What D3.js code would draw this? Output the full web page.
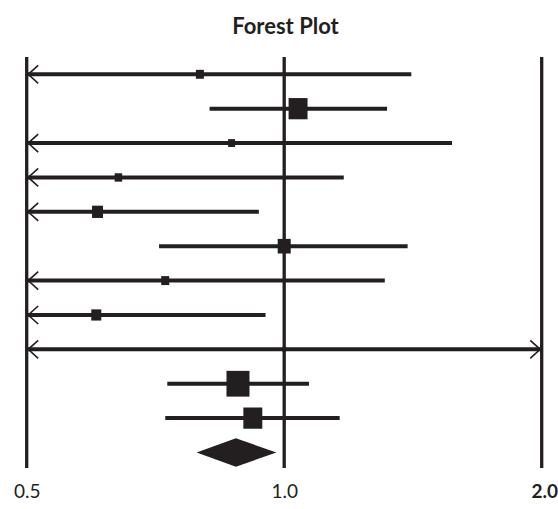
<!DOCTYPE html>
<html>
<head>
<meta charset="utf-8">
<script src="https://cdn.jsdelivr.net/npm/d3@7"></script>
<style>
  html, body { margin: 0; padding: 0; background: #fff; }
  svg { display: block; }
</style>
</head>
<body>
<svg id="chart" width="558" height="509"></svg>
<script>
// ---- data ----
const title = "Forest Plot";
const studies = ["Study 1","Study 2","Study 3","Study 4","Study 5","Study 6","Study 7","Study 8","Study 9","Study 10","Study 11"];
const estimates = [0.797, 1.038, 0.868, 0.640, 0.605, 1.000, 0.726, 0.603, 1.000, 0.883, 0.919];
const lowers    = [0.40,  0.818, 0.40,  0.40,  0.40,  0.714, 0.40,  0.40,  0.40,  0.730, 0.726];
const uppers    = [1.408, 1.319, 1.571, 1.174, 0.934, 1.394, 1.311, 0.951, 2.50,  1.069, 1.161];
const weights   = [6.4,   36,    4.9,   5.6,   12,    17,    6.4,   10,    1.6,   53,    36];
const pooledLabel = "Overall";
const pooledEstimate = 0.878, pooledLower = 0.790, pooledUpper = 0.979;
const tickValues = [0.5, 1.0, 2.0];
const tickLabels = ["0.5", "1.0", "2.0"];
const boldTicks  = [false, false, true];

// ---- layout ----
const svg = d3.select("#chart");
const ink = "#231f20";
const rows = studies.concat([pooledLabel]);

const x = d3.scaleLog().base(2).domain([0.5, 2.0]).range([26.7, 541.7]);
const y = d3.scalePoint().domain(rows).range([74.3, 452.5]);
const size = d3.scaleSqrt().domain([0, 53]).range([0, 23]);
const lineTop = 57, lineBottom = 468;
const [dMin, dMax] = x.domain();
const clampX = v => x(Math.max(dMin, Math.min(dMax, v)));

// title
svg.append("text")
  .attr("x", 285.5).attr("y", 34)
  .attr("text-anchor", "middle")
  .style("font-family", "Lato, 'Open Sans', sans-serif")
  .style("font-weight", "bold")
  .style("font-size", "22px")
  .attr("fill", ink)
  .text(title);

// vertical reference lines
svg.append("g").selectAll("line")
  .data(tickValues).join("line")
  .attr("x1", d => x(d)).attr("x2", d => x(d))
  .attr("y1", lineTop).attr("y2", lineBottom)
  .attr("stroke", ink).attr("stroke-width", 3.3);

// tick labels via axis
const axis = d3.axisBottom(x).tickValues(tickValues)
  .tickFormat((d, i) => tickLabels[i]).tickSize(0).tickPadding(0);
const axG = svg.append("g").attr("transform", "translate(0,498)").call(axis);
axG.select(".domain").remove();
axG.selectAll("text")
  .attr("y", 0).attr("dy", 0)
  .style("font-family", "Lato, 'Open Sans', sans-serif")
  .style("font-size", "19px")
  .attr("fill", ink)
  .style("font-weight", (d, i) => boldTicks[i] ? "bold" : "normal")
  .attr("text-anchor", (d, i) => i === tickValues.length - 1 ? "end" : "middle")
  .attr("x", (d, i) => i === tickValues.length - 1 ? 558 - x(d) - 0.5 : 0);

// study rows
const data = studies.map((s, i) => ({ s, est: estimates[i], lo: lowers[i], hi: uppers[i], w: weights[i] }));
const g = svg.append("g");
const rowG = g.selectAll("g.row").data(data).join("g").attr("class", "row");

rowG.append("line")
  .attr("x1", d => clampX(d.lo)).attr("x2", d => clampX(d.hi))
  .attr("y1", d => y(d.s)).attr("y2", d => y(d.s))
  .attr("stroke", ink).attr("stroke-width", 4);

// arrows where CI exceeds the axis range
rowG.filter(d => d.lo < dMin).append("path")
  .attr("d", d => {
    const tx = x(dMin) + 1.5, ty = y(d.s);
    return `M${tx + 10},${ty - 9}L${tx},${ty}L${tx + 10},${ty + 9}`;
  })
  .attr("fill", "none").attr("stroke", ink).attr("stroke-width", 1.6);
rowG.filter(d => d.hi > dMax).append("path")
  .attr("d", d => {
    const tx = x(dMax) - 1.5, ty = y(d.s);
    return `M${tx - 10},${ty - 9}L${tx},${ty}L${tx - 10},${ty + 9}`;
  })
  .attr("fill", "none").attr("stroke", ink).attr("stroke-width", 1.6);

rowG.append("rect")
  .attr("x", d => x(d.est) - size(d.w) / 2)
  .attr("y", d => y(d.s) - size(d.w) * 1.12 / 2)
  .attr("width", d => size(d.w))
  .attr("height", d => size(d.w) * 1.12)
  .attr("fill", ink);

// pooled diamond
const py = y(pooledLabel), ph = 14.2;
svg.append("path")
  .attr("d", `M${x(pooledLower)},${py}L${x(pooledEstimate)},${py - ph}L${x(pooledUpper)},${py}L${x(pooledEstimate)},${py + ph}Z`)
  .attr("fill", ink);
</script>
</body>
</html>
